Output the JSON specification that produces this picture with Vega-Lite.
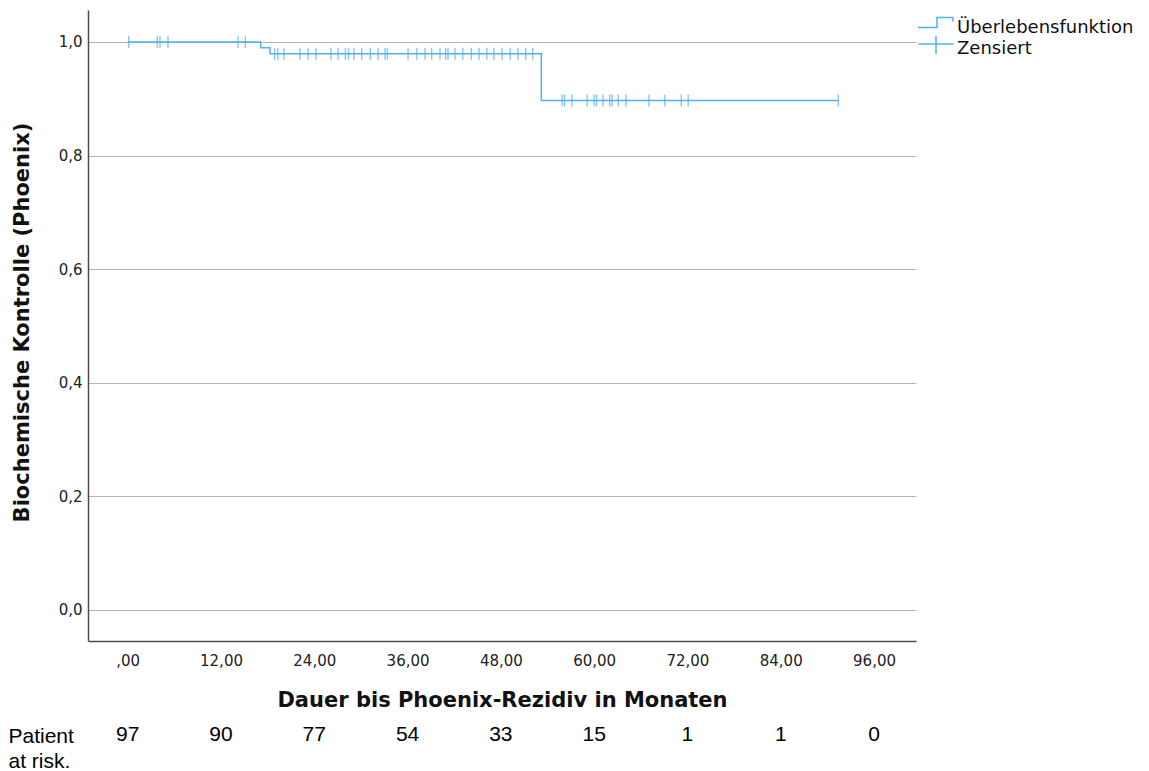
{
  "$schema": "https://vega.github.io/schema/vega-lite/v6.json",
  "padding": {"left": 8, "top": 10, "right": 0, "bottom": 0},
  "background": "white",
  "config": {"view": {"stroke": null}, "font": "DejaVu Sans", "concat": {"spacing": 13}},
  "datasets": {
    "km": [
      {"t": 0, "s": 1, "series": "Überlebensfunktion"},
      {"t": 17.1, "s": 0.9897, "series": "Überlebensfunktion"},
      {"t": 18.3, "s": 0.9791, "series": "Überlebensfunktion"},
      {"t": 53.2, "s": 0.897, "series": "Überlebensfunktion"},
      {"t": 91.4, "s": 0.897, "series": "Überlebensfunktion"}
    ],
    "cens": [
      {"t": 0.13, "s": 1, "series": "Zensiert"},
      {"t": 3.8, "s": 1, "series": "Zensiert"},
      {"t": 4.15, "s": 1, "series": "Zensiert"},
      {"t": 5.18, "s": 1, "series": "Zensiert"},
      {"t": 14.19, "s": 1, "series": "Zensiert"},
      {"t": 15.13, "s": 1, "series": "Zensiert"},
      {"t": 18.9, "s": 0.9791, "series": "Zensiert"},
      {"t": 19.3, "s": 0.9791, "series": "Zensiert"},
      {"t": 20.1, "s": 0.9791, "series": "Zensiert"},
      {"t": 22.16, "s": 0.9791, "series": "Zensiert"},
      {"t": 23.2, "s": 0.9791, "series": "Zensiert"},
      {"t": 24.22, "s": 0.9791, "series": "Zensiert"},
      {"t": 26.15, "s": 0.9791, "series": "Zensiert"},
      {"t": 27.05, "s": 0.9791, "series": "Zensiert"},
      {"t": 28.0, "s": 0.9791, "series": "Zensiert"},
      {"t": 28.4, "s": 0.9791, "series": "Zensiert"},
      {"t": 29.1, "s": 0.9791, "series": "Zensiert"},
      {"t": 30.1, "s": 0.9791, "series": "Zensiert"},
      {"t": 31.2, "s": 0.9791, "series": "Zensiert"},
      {"t": 32.2, "s": 0.9791, "series": "Zensiert"},
      {"t": 33.1, "s": 0.9791, "series": "Zensiert"},
      {"t": 33.4, "s": 0.9791, "series": "Zensiert"},
      {"t": 36.06, "s": 0.9791, "series": "Zensiert"},
      {"t": 37.2, "s": 0.9791, "series": "Zensiert"},
      {"t": 38.24, "s": 0.9791, "series": "Zensiert"},
      {"t": 39.1, "s": 0.9791, "series": "Zensiert"},
      {"t": 40.17, "s": 0.9791, "series": "Zensiert"},
      {"t": 40.9, "s": 0.9791, "series": "Zensiert"},
      {"t": 41.2, "s": 0.9791, "series": "Zensiert"},
      {"t": 42.1, "s": 0.9791, "series": "Zensiert"},
      {"t": 43.1, "s": 0.9791, "series": "Zensiert"},
      {"t": 44.2, "s": 0.9791, "series": "Zensiert"},
      {"t": 45.2, "s": 0.9791, "series": "Zensiert"},
      {"t": 46.2, "s": 0.9791, "series": "Zensiert"},
      {"t": 47.1, "s": 0.9791, "series": "Zensiert"},
      {"t": 48.15, "s": 0.9791, "series": "Zensiert"},
      {"t": 49.2, "s": 0.9791, "series": "Zensiert"},
      {"t": 50.2, "s": 0.9791, "series": "Zensiert"},
      {"t": 51.2, "s": 0.9791, "series": "Zensiert"},
      {"t": 52.1, "s": 0.9791, "series": "Zensiert"},
      {"t": 55.9, "s": 0.897, "series": "Zensiert"},
      {"t": 56.2, "s": 0.897, "series": "Zensiert"},
      {"t": 57.15, "s": 0.897, "series": "Zensiert"},
      {"t": 59.1, "s": 0.897, "series": "Zensiert"},
      {"t": 60.0, "s": 0.897, "series": "Zensiert"},
      {"t": 60.3, "s": 0.897, "series": "Zensiert"},
      {"t": 61.15, "s": 0.897, "series": "Zensiert"},
      {"t": 62.0, "s": 0.897, "series": "Zensiert"},
      {"t": 62.3, "s": 0.897, "series": "Zensiert"},
      {"t": 63.1, "s": 0.897, "series": "Zensiert"},
      {"t": 64.1, "s": 0.897, "series": "Zensiert"},
      {"t": 67.05, "s": 0.897, "series": "Zensiert"},
      {"t": 69.1, "s": 0.897, "series": "Zensiert"},
      {"t": 71.2, "s": 0.897, "series": "Zensiert"},
      {"t": 72.1, "s": 0.897, "series": "Zensiert"},
      {"t": 91.4, "s": 0.897, "series": "Zensiert"}
    ],
    "risk": [
      {"t": 0, "n": 97, "row": "r"},
      {"t": 12, "n": 90, "row": "r"},
      {"t": 24, "n": 77, "row": "r"},
      {"t": 36, "n": 54, "row": "r"},
      {"t": 48, "n": 33, "row": "r"},
      {"t": 60, "n": 15, "row": "r"},
      {"t": 72, "n": 1, "row": "r"},
      {"t": 84, "n": 1, "row": "r"},
      {"t": 96, "n": 0, "row": "r"}
    ]
  },
  "vconcat": [
    {
      "width": 828,
      "height": 631,
      "layer": [
        {
          "data": {"name": "km"},
          "mark": {"type": "line", "interpolate": "step-after", "strokeWidth": 1.5},
          "encoding": {
            "x": {
              "field": "t", "type": "quantitative",
              "scale": {"domain": [-5.107, 101.4], "nice": false, "zero": false},
              "axis": {
                "values": [0, 12, 24, 36, 48, 60, 72, 84, 96],
                "labelExpr": "datum.value == 0 ? ',00' : replace(format(datum.value, '.2f'), '.', ',')",
                "grid": false, "ticks": false, "tickSize": 0,
                "domainColor": "#4d4d4d", "domainWidth": 1.5,
                "labelFont": "DejaVu Sans", "labelFontSize": 15, "labelColor": "#222222",
                "labelPadding": 12, "labelFlush": false,
                "title": "Dauer bis Phoenix-Rezidiv in Monaten",
                "titleFont": "DejaVu Sans", "titleFontSize": 21, "titleFontWeight": "bold", "titleColor": "#111111",
                "titleX": 414, "titleY": 59, "titleAlign": "center", "titleBaseline": "middle"
              }
            },
            "y": {
              "field": "s", "type": "quantitative",
              "scale": {"domain": [-0.0546, 1.0563], "nice": false, "zero": false},
              "axis": {
                "values": [0, 0.2, 0.4, 0.6, 0.8, 1],
                "labelExpr": "replace(format(datum.value, '.1f'), '.', ',')",
                "grid": true, "gridColor": "#b3b3b3", "gridWidth": 1,
                "ticks": false, "tickSize": 0,
                "domainColor": "#4d4d4d", "domainWidth": 1.5,
                "labelFont": "DejaVu Sans", "labelFontSize": 15, "labelColor": "#222222", "labelPadding": 6,
                "title": "Biochemische Kontrolle (Phoenix)",
                "titleFont": "DejaVu Sans", "titleFontSize": 21, "titleFontWeight": "bold", "titleColor": "#111111",
                "titleX": -66, "titleY": 312, "titleAngle": 270, "titleAlign": "center", "titleBaseline": "middle"
              }
            },
            "color": {
              "field": "series", "type": "nominal",
              "scale": {"domain": ["Überlebensfunktion", "Zensiert"], "range": ["#4fb1f3", "#4fb1f3"]},
              "legend": {
                "title": null, "orient": "none", "legendX": 839, "legendY": 9, "padding": 0,
                "labelFont": "DejaVu Sans", "labelFontSize": 18, "labelColor": "#111111", "labelLimit": 0,
                "labelOffset": 12, "rowPadding": -4.5, "symbolSize": 256, "symbolStrokeWidth": 1.5,
                "symbolFillColor": "transparent", "symbolType": "stroke",
                "encode": {
                  "symbols": {
                    "update": {
                      "shape": {"signal": "datum.value == 'Zensiert' ? 'M-2.2,-0.575H2.2M0,-1.575V0.675' : 'M-2.25,-0.06H0.12V-1.31H2.12V-0.81'"},
                      "fill": {"value": "transparent"},
                      "fillOpacity": {"value": 0},
                      "stroke": {"value": "#4fb1f3"},
                      "strokeWidth": {"value": 1.5},
                      "opacity": {"value": 1}
                    }
                  }
                }
              }
            }
          }
        },
        {
          "data": {"name": "cens"},
          "mark": {"type": "tick", "orient": "vertical", "size": 12, "thickness": 1.4},
          "encoding": {
            "x": {"field": "t", "type": "quantitative"},
            "y": {"field": "s", "type": "quantitative"},
            "color": {"field": "series", "type": "nominal"}
          }
        }
      ]
    },
    {
      "width": 828,
      "height": 24,
      "data": {"name": "risk"},
      "mark": {"type": "text", "font": "Liberation Sans", "fontSize": 21, "baseline": "middle", "color": "#000000"},
      "encoding": {
        "x": {"field": "t", "type": "quantitative", "scale": {"domain": [-5.107, 101.4], "nice": false, "zero": false}, "axis": null},
        "y": {
          "field": "row", "type": "nominal",
          "axis": {
            "labels": false, "ticks": false, "domain": false, "grid": false,
            "title": ["Patient", "at risk."],
            "titleFont": "Liberation Sans", "titleFontSize": 21, "titleFontWeight": "normal", "titleColor": "#000000",
            "titleAngle": 0, "titleAlign": "left", "titleBaseline": "alphabetic",
            "titleX": -80, "titleY": 19, "titleLineHeight": 25
          }
        },
        "text": {"field": "n", "type": "quantitative"}
      }
    }
  ]
}
